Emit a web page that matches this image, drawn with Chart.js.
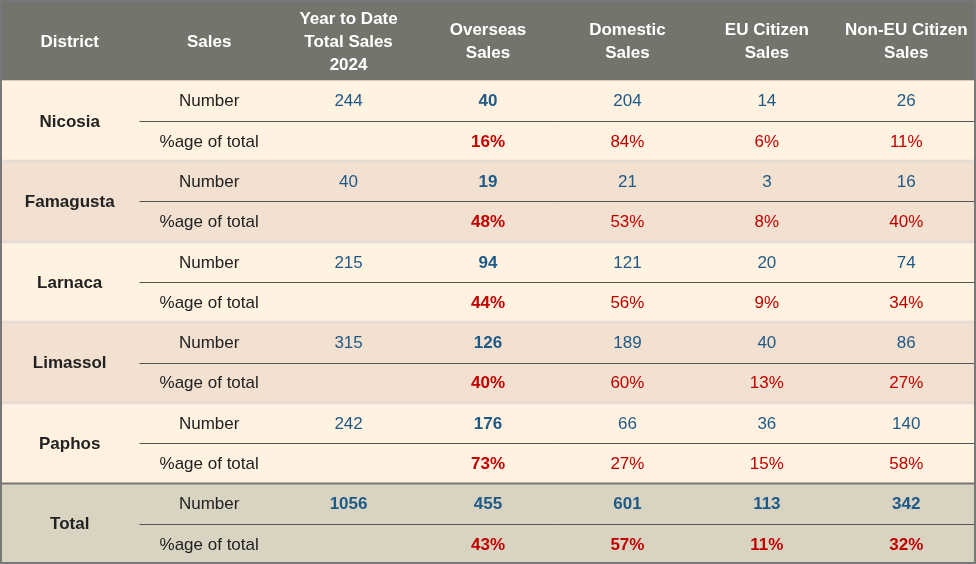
<!DOCTYPE html>
<html><head><meta charset="utf-8">
<script src="https://cdn.jsdelivr.net/npm/chart.js"></script>
<style>html,body{margin:0;padding:0;background:#fff}#w{width:976px;height:564px}</style>
</head><body><div id="w"><canvas id="c"></canvas></div>
<script>
const headers = ['District','Sales','Year to Date\nTotal Sales\n2024','Overseas\nSales','Domestic\nSales','EU Citizen\nSales','Non-EU Citizen\nSales'];
const districts = ['Nicosia','Famagusta','Larnaca','Limassol','Paphos','Total'];
const rowLabels = ['Number','%age of total'];
const ytd = [244,40,215,315,242,1056];
const overseas = [40,19,94,126,176,455];
const domestic = [204,21,121,189,66,601];
const eu = [14,3,20,40,36,113];
const nonEu = [26,16,74,86,140,342];
const overseasPct = [16,48,44,40,73,43];
const domesticPct = [84,53,56,60,27,57];
const euPct = [6,8,9,13,15,11];
const nonEuPct = [11,40,34,27,58,32];

const FONT = '"Liberation Sans", Arial, sans-serif';
const BLUE = '#1f5a87', RED = '#c00000';
const tablePlugin = {
  id: 'table',
  afterDraw(chart) {
    const ctx = chart.ctx, X = chart.scales.x, Y = chart.scales.y;
    const px = v => X.getPixelForValue(v), py = v => Y.getPixelForValue(v);
    const rect = (x0,y0,x1,y1,c) => { ctx.fillStyle=c; ctx.fillRect(px(x0),py(y0),px(x1)-px(x0),py(y1)-py(y0)); };
    const text = (t,cx,cy,color,bold) => {
      ctx.fillStyle=color; ctx.font=(bold?'bold ':'')+'17px '+FONT;
      ctx.textAlign='center'; ctx.textBaseline='middle';
      ctx.fillText(t,px(cx),py(cy)+1);
    };
    ctx.save();
    rect(0,0,7,2,'#75746c');
    headers.forEach((h,i)=>{
      const lines=h.split('\n'); const n=lines.length;
      lines.forEach((l,j)=>{
        ctx.fillStyle='#fff'; ctx.font='bold 17px '+FONT; ctx.textAlign='center'; ctx.textBaseline='middle';
        ctx.fillText(l,px(i+0.5),py(1)+2+(j-(n-1)/2)*23);
      });
    });
    districts.forEach((d,i)=>{
      const y0=2+2*i, tot = i===districts.length-1;
      const bg = tot ? '#d9d4c2' : (i%2 ? '#f2e0d0' : '#fff2e0');
      rect(0,y0,7,y0+2,bg);
      text(d,0.5,y0+1,'#222',true);
      text(rowLabels[0],1.5,y0+0.5,'#222',false);
      text(rowLabels[1],1.5,y0+1.5,'#222',false);
      text(String(ytd[i]),2.5,y0+0.5,BLUE,tot);
      [overseas,domestic,eu,nonEu].forEach((a,k)=>text(String(a[i]),3.5+k,y0+0.5,BLUE,tot||k===0));
      [overseasPct,domesticPct,euPct,nonEuPct].forEach((a,k)=>text(a[i]+'%',3.5+k,y0+1.5,RED,tot||k===0));
      ctx.strokeStyle='#555'; ctx.lineWidth=1;
      ctx.beginPath(); ctx.moveTo(px(1),Math.round(py(y0+1))+0.5); ctx.lineTo(px(7),Math.round(py(y0+1))+0.5); ctx.stroke();
      if (i>0) {
        ctx.strokeStyle= tot ? '#777' : '#e6dcd2'; ctx.lineWidth= tot?2:3;
        ctx.beginPath(); ctx.moveTo(px(0),py(y0)); ctx.lineTo(px(7),py(y0)); ctx.stroke();
      }
    });
    ctx.strokeStyle='#777'; ctx.lineWidth=2;
    ctx.strokeRect(px(0)+1,py(0)+1,px(7)-px(0)-2,py(14)-py(0)-2);
    ctx.restore();
  }
};
new Chart(document.getElementById('c'), {
  type: 'scatter',
  data: { datasets: [{ data: [] }] },
  options: {
    responsive: true, maintainAspectRatio: false, animation: false,
    layout: { padding: 0 },
    plugins: { legend: { display: false }, tooltip: { enabled: false } },
    scales: {
      x: { type: 'linear', min: 0, max: 7, display: false },
      y: { type: 'linear', min: 0, max: 14, reverse: true, display: false }
    }
  },
  plugins: [tablePlugin]
});
</script></body></html>
